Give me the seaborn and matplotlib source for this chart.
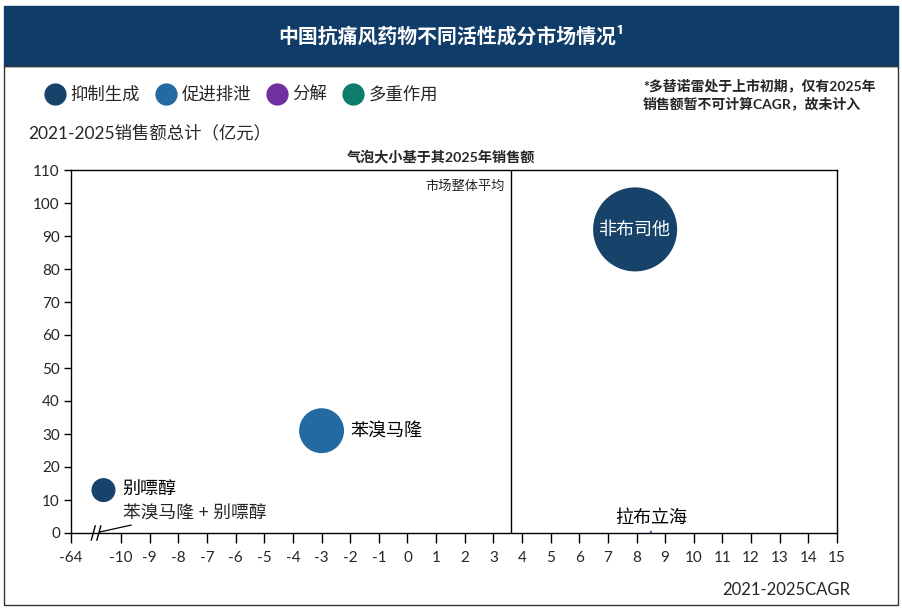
import pandas as pd
import seaborn as sns
import matplotlib.pyplot as plt
from matplotlib.lines import Line2D
from matplotlib.patches import Rectangle

# data
names = ["非布司他", "苯溴马隆", "别嘌醇", "拉布立海", "苯溴马隆 + 别嘌醇"]
cagr = [7.95, -3.0, -29.0, 8.5, -33.0]          # 2021-2025 CAGR (%)
total_sales = [92.0, 31.0, 13.0, 0.3, 0.3]      # 2021-2025 sales total (亿元)
sales_2025 = [24.5, 7.0, 2.0, 0.02, 0.01]       # bubble size
mechanism = ["抑制生成", "促进排泄", "抑制生成", "分解", "多重作用"]
market_avg = 3.6

mech_order = ["抑制生成", "促进排泄", "分解", "多重作用"]
mech_colors = ["#17426a", "#236aa3", "#7030a0", "#0e7c6b"]
x_ticks = [-64] + list(range(-10, 16))
y_ticks = list(range(0, 111, 10))

# broken x axis: -64..-10 squeezed into a short segment
BREAK_LEFT = -64
BREAK_WIDTH = 1.75


def to_pos(v):
    if v >= -10:
        return v
    return -10 - (-10 - v) / (-10 - BREAK_LEFT) * BREAK_WIDTH


df = pd.DataFrame({"name": names, "cagr": cagr, "total": total_sales,
                   "sales25": sales_2025, "mech": mechanism})
df["pos"] = df["cagr"].map(to_pos)

sns.set_style("white")
plt.rcParams["font.family"] = ["Lato", "Noto Sans CJK SC", "DejaVu Sans"]

fig = plt.figure(figsize=(9.03, 6.08), dpi=100)
W, H = 903, 608

# title band and outer frame
fig.patches.append(Rectangle((4 / W, (H - 66) / H), 894 / W, 60 / H,
                             transform=fig.transFigure, color="#0f3c68", zorder=0))
fig.patches.append(Rectangle((4 / W, 3 / H), 894 / W, (H - 66 - 3) / H, fill=False,
                             transform=fig.transFigure, edgecolor="#333333", lw=1))
fig.text(0.5, 1 - 36 / H, "中国抗痛风药物不同活性成分市场情况¹", color="white",
         fontsize=14.3, fontweight="bold", ha="center", va="center",
         family=["Noto Sans CJK SC", "DejaVu Sans"])

ax = fig.add_axes([71 / W, (H - 533) / H, (837 - 71) / W, (533 - 170) / H])
palette = dict(zip(mech_order, mech_colors))
sns.scatterplot(data=df, x="pos", y="total", hue="mech", hue_order=mech_order,
                palette=palette, size="sales25", sizes=(0, 3660),
                size_norm=(0, max(sales_2025)), legend=False, ax=ax,
                edgecolor="none", alpha=1, clip_on=False, zorder=3)

# bubble labels
label_style = {
    "非布司他": dict(xytext=(0, 0), ha="center", color="white"),
    "苯溴马隆": dict(xytext=(21, 0), ha="left", color="black"),
    "别嘌醇": dict(xytext=(14, 0), ha="left", color="black"),
    "拉布立海": dict(xytext=(0, 10), ha="center", color="black"),
}
for _, r in df.iterrows():
    if r["name"] in label_style:
        st = label_style[r["name"]]
        ax.annotate(r["name"], (r["pos"], r["total"]), xytext=st["xytext"],
                    textcoords="offset points", ha=st["ha"], va="center",
                    color=st["color"], fontsize=13, zorder=4, annotation_clip=False)
combo = df[df["name"] == "苯溴马隆 + 别嘌醇"].iloc[0]
ax.annotate(combo["name"], (combo["pos"], combo["total"]), xytext=(-9.93, 3.4),
            textcoords="data", ha="left", va="bottom", fontsize=12.8,
            arrowprops=dict(arrowstyle="-", color="black", lw=0.9,
                            relpos=(0.16, 0), shrinkA=0, shrinkB=0),
            annotation_clip=False)

ax.axvline(market_avg, color="black", lw=1, zorder=2)
ax.text(market_avg - 0.2, 105.3, "市场整体平均", ha="right", va="center",
        fontsize=9.5, style="italic")

ax.set_xlim(to_pos(-64), 15)
ax.set_ylim(0, 110)
ax.set_xticks([to_pos(v) for v in x_ticks])
ax.set_xticklabels([str(v) for v in x_ticks])
ax.set_yticks(y_ticks)
ax.set_xlabel("")
ax.set_ylabel("")
ax.tick_params(axis="x", direction="out", length=7, width=1, color="black",
               labelsize=11, pad=6, bottom=True)
ax.tick_params(axis="y", direction="out", length=5, width=1, color="black",
               labelsize=11, pad=3, left=True)
for s in ax.spines.values():
    s.set_color("black")
    s.set_linewidth(1)

# break marks on the x axis
for bx in [to_pos(-40), to_pos(-34)]:
    ax.plot([bx - 0.07, bx + 0.07], [-2.2, 2.2], color="black", lw=1,
            clip_on=False, zorder=5)

# legend
handles = [Line2D([], [], marker="o", ls="", markersize=16, color=c,
                  markeredgecolor="none") for c in mech_colors]
fig.legend(handles, mech_order, loc="center left", ncol=4, frameon=False,
           bbox_to_anchor=(46 / W, 1 - 95 / H), fontsize=12.5,
           handlelength=1.0, handletextpad=0.4, columnspacing=1.0,
           borderaxespad=0, borderpad=0)

fig.text(643 / W, 1 - 85 / H, "*多替诺雷处于上市初期，仅有2025年", fontsize=10,
         fontweight="bold", va="center", ha="left")
fig.text(643 / W, 1 - 103 / H, "销售额暂不可计算CAGR，故未计入", fontsize=10,
         fontweight="bold", va="center", ha="left")
fig.text(28 / W, 1 - 133 / H, "2021-2025销售额总计（亿元）", fontsize=12.5,
         va="center", ha="left")
fig.text(441 / W, 1 - 157 / H, "气泡大小基于其2025年销售额", fontsize=10.2,
         fontweight="bold", va="center", ha="center")
fig.text(850 / W, 1 - 590 / H, "2021-2025CAGR", fontsize=12, va="center", ha="right")

plt.savefig("out.png", dpi=100)
